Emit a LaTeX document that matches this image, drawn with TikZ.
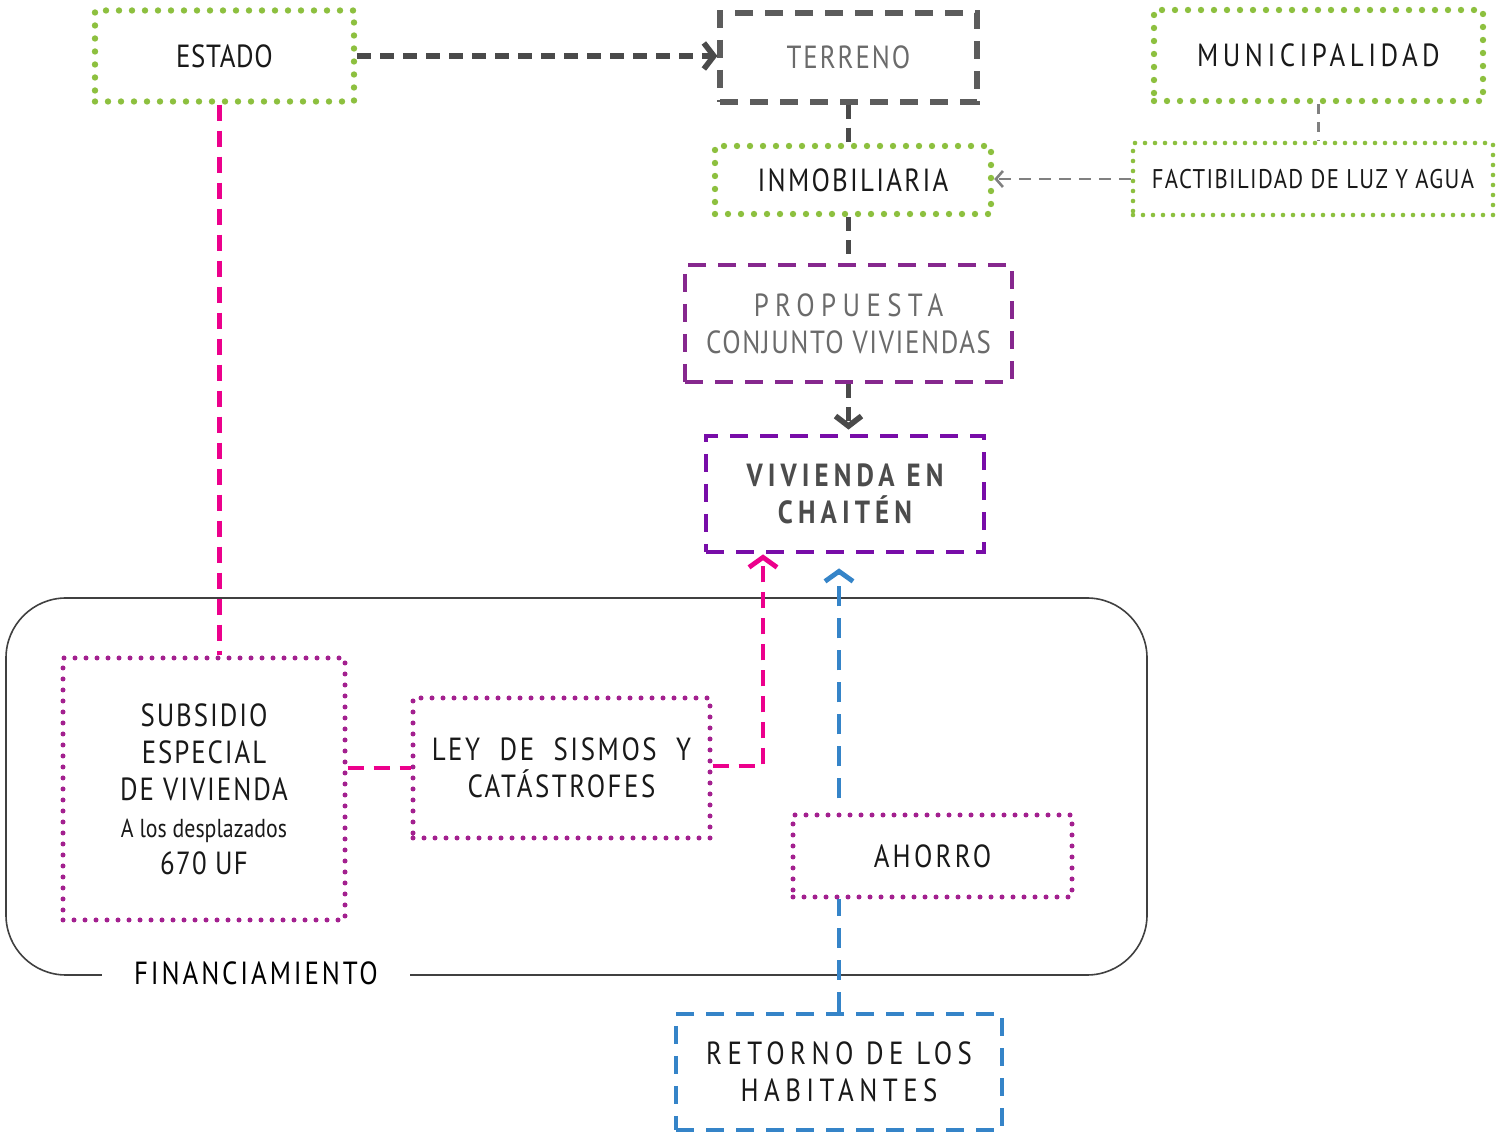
\documentclass[tikz,border=0pt]{standalone}
\usepackage{fontspec}
\setmainfont{PT Sans}[FakeStretch=0.84]
\usepackage{xcolor}
\usepackage{tikz}
\usetikzlibrary{arrows.meta}
\definecolor{leafgreen}{HTML}{8DC03F}
\definecolor{slate}{HTML}{4A4A4A}
\definecolor{midgray}{HTML}{6B6B6B}
\definecolor{plum}{HTML}{86288E}
\definecolor{violet}{HTML}{780DA8}
\definecolor{orchid}{HTML}{A3208F}
\definecolor{hotpink}{HTML}{EC008C}
\definecolor{skyblue}{HTML}{3584C8}
\newcommand{\trk}[1]{\addfontfeatures{LetterSpace=#1}}

\begin{document}
\begin{tikzpicture}[
    x=0.5pt, y=-0.5pt,
    font=\fontsize{16}{18.5}\selectfont,
    greenbox/.style={rectangle, draw=leafgreen, line width=3.2pt, line cap=round,
                     dash pattern=on 0pt off 6.5pt, align=center, text=black!90, inner sep=0pt},
    thingreen/.style={greenbox, line width=2.3pt, dash pattern=on 0pt off 5pt},
    plumbox/.style={rectangle, draw=orchid, line width=2.5pt, line cap=round,
                    dash pattern=on 0pt off 5.5pt, align=center, text=black!90, inner sep=0pt},
    dashbox/.style={rectangle, line width=2.4pt, dash pattern=on 9pt off 6pt,
                    align=center, inner sep=0pt},
    darkline/.style={draw=slate, line width=2.8pt, dash pattern=on 7pt off 4.5pt},
    darkarrow/.style={darkline, -{Straight Barb[length=5pt, width=13pt]}},
    grayarrow/.style={draw=gray, line width=1.3pt, dash pattern=on 6pt off 4pt,
                      -{Straight Barb[length=3.5pt, width=8pt]}},
    pinkline/.style={draw=hotpink, line width=2.4pt, dash pattern=on 8pt off 5pt},
    blueline/.style={draw=skyblue, line width=2.4pt, dash pattern=on 10pt off 6pt},
    tip/.style={-{Straight Barb[length=5pt, width=14pt]}}
  ]
    \useasboundingbox (0,0) rectangle (1496,1138);

    \node[greenbox, minimum width=129.5pt, minimum height=45.5pt] (estado) at (224.5,56)
      {\trk{2}ESTADO};
    \node[dashbox, draw=slate!90, line width=2.6pt, text=midgray,
          minimum width=128.5pt, minimum height=44.5pt] (terreno) at (848.5,57.5)
      {\trk{6}TERRENO};
    \node[greenbox, minimum width=164.5pt, minimum height=45.5pt] (muni) at (1318.5,55.5)
      {\trk{14}MUNICIPALIDAD};
    \node[greenbox, minimum width=138pt, minimum height=34pt] (inmob) at (853,180)
      {\trk{7}INMOBILIARIA};
    \node[thingreen, minimum width=180pt, minimum height=36pt,
          font=\fontsize{13.5}{15}\selectfont] (fact) at (1313,179)
      {\trk{5}FACTIBILIDAD DE LUZ Y AGUA};
    \node[dashbox, draw=plum, text=midgray, minimum width=163.5pt, minimum height=58.5pt]
      (propuesta) at (848.5,323.5)
      {{\trk{20}PROPUESTA}\\{\trk{5}CONJUNTO VIVIENDAS}};
    \node[dashbox, draw=violet, text=black!70, font=\fontsize{16}{18.5}\selectfont\bfseries,
          minimum width=139pt, minimum height=58pt] (vivienda) at (845,494)
      {{\trk{16}VIVIENDA EN}\\{\trk{16}CHAITÉN}};

    \draw[draw=black!75, line width=0.8pt, rounded corners=30pt] (6,598) rectangle (1147,975);
    \node[fill=white, inner xsep=16pt, inner ysep=2pt] (finan) at (256,973)
      {\trk{9}FINANCIAMIENTO};

    \node[plumbox, minimum width=141pt, minimum height=131pt] (subsidio) at (204,789)
      {{\trk{6}SUBSIDIO}\\{\trk{6}ESPECIAL}\\{\trk{6}DE VIVIENDA}\\
       {\fontsize{13}{19}\selectfont A los desplazados}\\{\trk{4}670 UF}};
    \node[plumbox, minimum width=148.5pt, minimum height=70pt] (ley) at (561.5,768)
      {{\trk{8}LEY\ \ DE\ \ SISMOS\ \ Y}\\{\trk{8}CATÁSTROFES}};
    \node[plumbox, minimum width=139.5pt, minimum height=41pt] (ahorro) at (932.5,856)
      {\trk{10}AHORRO};
    \node[dashbox, draw=skyblue, text=black!90, minimum width=163pt, minimum height=58pt]
      (retorno) at (839,1072)
      {{\trk{17}RETORNO DE LOS}\\{\trk{17}HABITANTES}};

    \draw[darkarrow] (estado.east) -- (estado.east -| terreno.west);
    \draw[darkline] (terreno.south) -- (terreno.south |- inmob.north);
    \draw[darkline] (propuesta.north |- inmob.south) -- (propuesta.north);
    \draw[darkarrow, shorten >=2pt] (propuesta.south) -- (propuesta.south |- vivienda.north);
    \draw[grayarrow, dash pattern=on 5pt off 4pt, -] (muni.south) -- (muni.south |- fact.north);
    \draw[grayarrow] (fact.west) -- (fact.west -| inmob.east);

    \draw[pinkline] ([xshift=-2.5pt]estado.south) -- ([xshift=-2.5pt]estado.south |- subsidio.north);
    \draw[pinkline] (ley.west -| subsidio.east) -- (ley.west);
    \draw[pinkline, tip] ([yshift=1pt]ley.east) -| ([xshift=-41pt]vivienda.south);
    \draw[blueline] (retorno.north) -- (retorno.north |- ahorro.south);
    \draw[blueline, tip, shorten >=7pt] ([yshift=7pt]retorno.north |- ahorro.north)
      -- (retorno.north |- vivienda.south);
\end{tikzpicture}
\end{document}
